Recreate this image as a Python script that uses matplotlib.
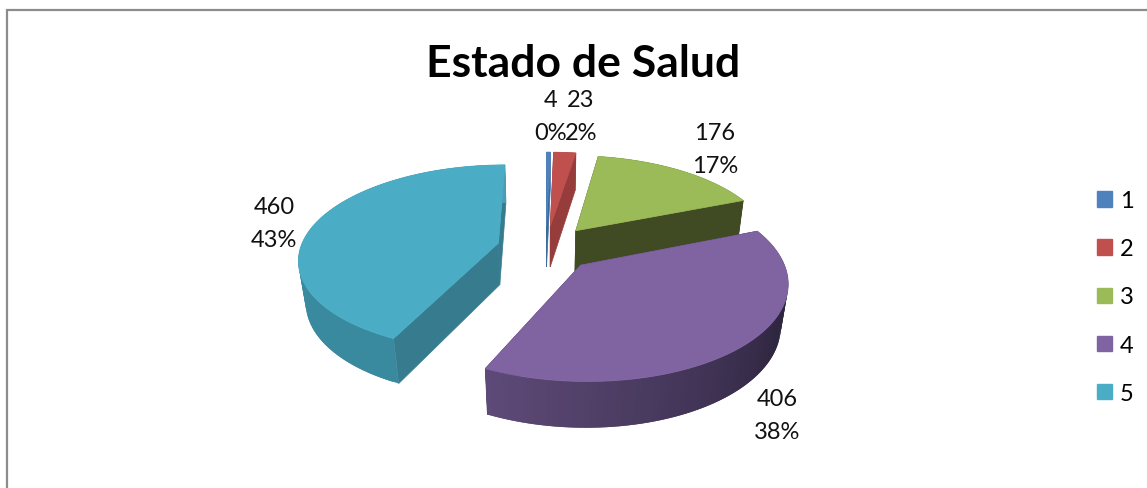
import numpy as np
import matplotlib
matplotlib.use('Agg')
import matplotlib.pyplot as plt
from matplotlib.patches import Patch, Polygon
from matplotlib.colors import to_rgb

# datos
categorias = ['1', '2', '3', '4', '5']
valores = [4, 23, 176, 406, 460]
porcentajes = ['0%', '2%', '17%', '38%', '43%']
titulo = 'Estado de Salud'

colores = ['#4f81bd', '#c0504d', '#9bbb59', '#8064a2', '#4bacc6']
caras = ['#3a6a9e', '#963d3b', '#414b23', '#3c2f52', '#377b8f']
pared_ini = ['#4f81bd', '#963d3b', '#414b23', '#2f2640', '#3a8a9f']
pared_fin = ['#4f81bd', '#963d3b', '#414b23', '#5e4a78', '#4a9db5']

plt.rcParams['font.family'] = ['Lato', 'DejaVu Sans']

# proyeccion del disco con perspectiva
CX, CY = 546, 249
A, B, P, Q = 92, 198, 0.158, 0.03
DEPTH = 43
EXPLODE = 0.248


def proj(u, v, z=0.0):
    den = 1 + P * v + Q * z
    return CX + B * u / den, CY - A * v / den + DEPTH * z / den


fig = plt.figure(figsize=(11.47, 4.89), dpi=100)
ax = fig.add_axes([0, 0, 1, 1])
ax.set_xlim(0, 1147)
ax.set_ylim(489, 0)
ax.axis('off')

# marco
ax.plot([6.5, 6.5, 1147], [489, 11, 11], color='#8c8c8c', lw=1.6, solid_joinstyle='miter')

total = float(sum(valores))
acum = np.cumsum([0] + valores) / total * 2 * np.pi

for i in [0, 1, 2, 4, 3]:
    t0, t1 = acum[i], acum[i + 1]
    med = (t0 + t1) / 2
    ou, ov = EXPLODE * np.sin(med), EXPLODE * np.cos(med)
    th = np.linspace(t0, t1, 90)
    us = ou + np.sin(th)
    vs = ov + np.cos(th)

    # caras radiales
    for t in (t0, t1):
        eu, ev = ou + np.sin(t), ov + np.cos(t)
        cara = [proj(ou, ov), proj(eu, ev), proj(eu, ev, 1), proj(ou, ov, 1)]
        ax.add_patch(Polygon(cara, closed=True, fc=caras[i], ec=caras[i], lw=0.5))

    # pared exterior, sin borde entre tiras para que no salga rayado
    c0 = np.array(to_rgb(pared_ini[i]))
    c1 = np.array(to_rgb(pared_fin[i]))
    for k in range(len(th) - 1):
        f = max(0.0, (k / (len(th) - 2) - 0.35) / 0.65)
        c = c0 + (c1 - c0) * f
        k2 = min(k + 2, len(th) - 1)
        tira = [proj(us[k], vs[k]), proj(us[k2], vs[k2]),
                proj(us[k2], vs[k2], 1), proj(us[k], vs[k], 1)]
        ax.add_patch(Polygon(tira, closed=True, fc=c, ec='none', lw=0))

    # tapa
    tapa = [proj(ou, ov)] + [proj(a, b) for a, b in zip(us, vs)]
    ax.add_patch(Polygon(tapa, closed=True, fc=colores[i], ec=colores[i], lw=0.5))

# etiquetas
pos_etq = [(551, 117), (581, 117), (715, 150), (777, 416), (274, 224)]
for i in range(5):
    ax.text(pos_etq[i][0], pos_etq[i][1], '%d\n%s' % (valores[i], porcentajes[i]),
            ha='center', va='center', fontsize=17, color='#111111', linespacing=1.68)

ax.text(583, 64, titulo, ha='center', va='center', fontsize=32, fontweight='bold', color='black')

handles = [Patch(fc=c, ec=c) for c in colores]
ax.legend(handles, categorias, loc='center left', bbox_to_anchor=(1097 / 1147, 1 - 298 / 489),
          frameon=False, fontsize=17, handlelength=0.62, handleheight=0.62,
          handletextpad=0.34, labelspacing=1.15, borderpad=0, borderaxespad=0)

fig.savefig('out.png', dpi=100)
